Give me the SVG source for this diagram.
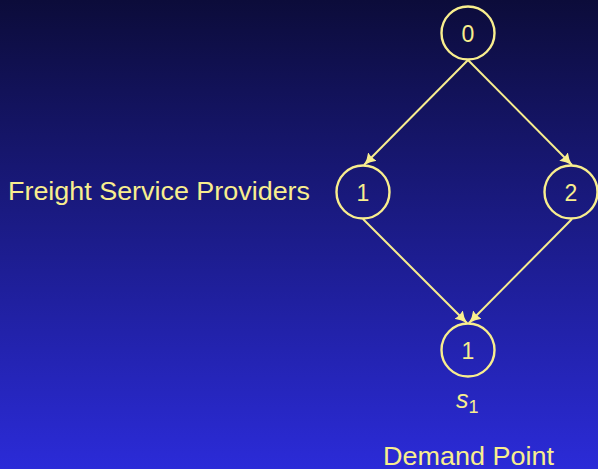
<svg xmlns="http://www.w3.org/2000/svg" width="598" height="469" viewBox="0 0 598 469">
<style>
.n{fill:none;stroke:#f8ee8e;stroke-width:2.4}
.t{fill:#f8ee8e;font-family:"Liberation Sans","DejaVu Sans",sans-serif;font-size:25px}
.d{font-size:23px}
.e{stroke:#f8ee8e;stroke-width:2;fill:none;marker-end:url(#ah)}
</style>
<defs>
<linearGradient id="bg" x1="0" y1="0" x2="0" y2="1">
<stop offset="0" stop-color="#0c0c3a"/>
<stop offset="1" stop-color="#2b2bd8"/>
</linearGradient>
<marker id="ah" markerWidth="14" markerHeight="14" refX="12" refY="7" orient="auto" markerUnits="userSpaceOnUse">
<path d="M0,1 Q5,5 12,7 Q5,9 0,13 Q2,7 0,1 Z" fill="#f8ee8e"/>
</marker>
</defs>
<rect width="598" height="469" fill="url(#bg)"/>
<g id="edges">
<line class="e" x1="468" y1="60" x2="364" y2="165"/>
<line class="e" x1="468" y1="60" x2="572" y2="165"/>
<line class="e" x1="363" y1="219" x2="467" y2="323"/>
<line class="e" x1="572" y1="219" x2="469" y2="323"/>
</g>
<g id="node0"><circle class="n" cx="468" cy="33" r="26.5"/><text class="t d" x="468" y="42" text-anchor="middle">0</text></g>
<g id="node1"><circle class="n" cx="363" cy="192" r="26.5"/><text class="t d" x="363" y="201" text-anchor="middle">1</text></g>
<g id="node2"><circle class="n" cx="571" cy="192" r="26.5"/><text class="t d" x="571" y="201" text-anchor="middle">2</text></g>
<g id="node3"><circle class="n" cx="468" cy="350" r="26.5"/><text class="t d" x="468" y="359" text-anchor="middle">1</text></g>
<g id="labels">
<text class="t" x="8" y="200" textLength="302" lengthAdjust="spacingAndGlyphs">Freight Service Providers</text>
<text class="t" x="456" y="408" font-style="italic" font-size="24">s<tspan font-style="normal" font-size="18" dy="5">1</tspan></text>
<text class="t" x="383" y="465" textLength="171" lengthAdjust="spacingAndGlyphs">Demand Point</text>
</g>
</svg>
